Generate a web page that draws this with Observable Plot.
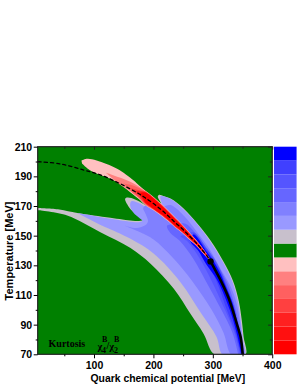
<!DOCTYPE html>
<html><head><meta charset="utf-8">
<script src="https://cdn.jsdelivr.net/npm/d3@7"></script>
<script src="https://cdn.jsdelivr.net/npm/@observablehq/plot@0.6"></script>
<style>html,body{margin:0;padding:0;background:#fff}svg{display:block}</style>
</head><body><div id="c"></div>
<script>
const bandGrey=[[5,169],[40.7,168],[70.9,165.6],[126.7,162.4],[164.2,160.4],[175,160.3],[183,161],[177,163.3],[169,165.3],[161,168],[155,171.5],[151.5,175],[154.3,176],[162,175.7],[177,173],[194,168.8],[212,166],[212,172],[206.5,176.5],[208.3,177.8],[217,177],[228,175.4],[250,168.7],[273,158.6],[295.3,147.1],[317,133],[333,120],[343,106],[348,93],[351,82],[354,70],[302.5,70],[283.8,84],[261.5,97.6],[233.5,114.5],[194.3,131.4],[160.6,142],[109.9,152.7],[54,164],[5,167.5]];
const band90=[[70.9,165.6],[127,161.7],[165,159.6],[176,159.6],[180.5,160.4],[174,162.8],[166,165.6],[160,170.5],[162,173.5],[177,171.8],[194,167.5],[213,165],[213,172],[211,176.8],[228,175],[250,168],[273,158],[295,146.3],[316,132.5],[332,119.3],[342,105],[346.5,92],[350,80],[353,70],[316,70],[305.5,82],[280,97.6],[244.7,119],[199.9,138.1],[160.6,148.2],[110,157.5]];
const band80=[[151,157],[170,155.5],[186,157.5],[190,160],[186,165],[182,169],[194,172],[214,170],[228,171],[250,164],[272.8,152.7],[295,140.4],[312,128],[328,117],[339,105],[345,92],[348.5,80],[351.5,70],[330.5,70],[317,85],[297.6,100],[264,120],[233,135],[198.8,148],[169,154]];
const band66=[[342,70],[332,85],[314,100],[287,120],[266,135],[243,147],[228,152],[222,157],[235,158],[253,158.3],[272.8,150.5],[295,138],[309,129],[325,117],[338,100],[345,85],[350,70]];
const band55=[[345,70],[335.5,85],[320,100],[297,120],[277,135],[255,147],[245,150],[255,151],[267,152.7],[289.6,141.5],[303.7,133.6],[315,124.6],[322,117],[336,100],[343,85],[349,70]];
const band40=[[346.5,70],[337,85],[323,100],[305,120],[285,135],[265,146],[258,147.5],[265,150],[267,152],[289.6,140.5],[302,133],[313.5,124.6],[321,117],[335,102],[343,86],[350,70]];
const band00=[[347.5,70],[339,85],[328,100],[307,120],[288,131],[275,140],[262,146],[262,148],[267,151.2],[289.6,139.2],[301,132.8],[312,124.6],[320,117],[333,104],[342,88],[351,70]];
const redPink=[[78,201],[88,202.2],[103.6,201],[138,195.4],[166,187.5],[174.6,184.3],[185.8,180.6],[199.9,176.3],[213.9,171.3],[225.1,166.9],[236.3,162.4],[247.6,157.9],[258.8,153],[270,148],[281.2,142.4],[290.8,136.8],[294,134.5],[290.8,135],[281.2,139.2],[270,144],[258.8,148],[247.6,152.1],[236.3,155.6],[225.1,159.7],[213.9,163.3],[199.9,167.3],[185.8,170.8],[174.6,175],[160.6,179.5],[132.7,187.5],[93,194.3],[79,199]];
const red80=[[118.5,193],[146,189],[166,185.5],[185.8,180.3],[199.9,176],[213.9,171],[225.1,166.6],[236.3,162.1],[247.6,157.6],[258.8,152.7],[270,147.7],[281.2,142.2],[290.8,136.6],[293,134.7],[290.8,135.2],[281.2,139.4],[270,144.3],[258.8,148.3],[247.6,152.4],[236.3,155.9],[225.1,160],[213.9,163.6],[199.9,167.6],[185.8,171.1],[174.6,175.5],[160.6,180.2],[140,185.5]];
const red60=[[149,185.5],[166,184],[185.8,180.1],[199.9,175.8],[213.9,170.8],[225.1,166.4],[236.3,161.9],[247.6,157.4],[258.8,152.5],[270,147.5],[281.2,142],[290.8,136.4],[292.5,134.8],[290.8,135.3],[281.2,139.6],[270,144.5],[258.8,148.5],[247.6,152.6],[236.3,156.1],[225.1,160.2],[213.9,163.8],[199.9,167.8],[185.8,171.4],[174.6,176],[165,179]];
const red40=[[160,182.5],[170,181.5],[185.8,179.9],[199.9,175.6],[213.9,170.6],[225.1,166.2],[236.3,161.7],[247.6,157.2],[258.8,152.3],[270,147.3],[281.2,141.8],[290.8,136.3],[292,135],[290.8,135.5],[281.2,139.8],[270,144.7],[258.8,148.7],[247.6,152.8],[236.3,156.3],[225.1,160.4],[213.9,164],[199.9,168],[185.8,171.8],[174.6,176.5]];
const red20=[[169,180.5],[185.8,179.7],[199.9,175.4],[213.9,170.4],[225.1,166],[236.3,161.5],[247.6,157],[258.8,152.1],[270,147.1],[281.2,141.6],[290.8,136.2],[291.5,135.2],[290.8,135.6],[281.2,140],[270,144.9],[258.8,148.9],[247.6,153],[236.3,156.5],[225.1,160.6],[213.9,164.2],[199.9,168.2],[185.8,172.2],[178,176.5]];
const red00=[[176,178.8],[185.8,179.5],[199.9,175.2],[213.9,170.2],[225.1,165.8],[236.3,161.3],[247.6,156.8],[258.8,151.9],[270,146.9],[281.2,141.4],[290.6,136],[291,135.4],[290.6,135.8],[281.2,140.2],[270,145.1],[258.8,149.1],[247.6,153.2],[236.3,156.7],[225.1,160.8],[213.9,164.4],[199.9,168.4],[185.8,172.6]];
const crossover=[[5,200.2],[42,198.8],[81,194.7],[109.9,191.3],[145,185],[174.6,178.6],[185.8,175.7],[199.9,171.8],[213.9,167.3],[225.1,163.3],[236.3,159],[247.6,155],[258.8,150.5],[270,146],[281.2,140.8],[290.8,135.9],[294,133.8]];
const firstOrder=[[295.3,133],[303.5,127],[312,120.5],[326,108],[334.5,97.6],[341,89],[346,82],[349.6,70]];
const criticalPoint=[[295.3,133]];
const legendColors=["#ff0000","#ff1010","#ff2020","#ff4040","#ff6060","#ff8080","#ffc0c0","#008000","#c8c0cc","#9999ff","#8080ff","#6666ff","#5555ff","#4040ff","#0000ff"];
const xMajor=[100,200,300,400], xMinor=[50,150,250,350];
const yMajor=[70,90,110,130,150,170,190,210], yMinor=[80,100,120,140,160,180,200];
const annotations=[{t:"Kurtosis",x:22.6,y:77.6,s:10},{t:"χ",x:105,y:75.6,s:10.5},{t:"B",x:112.6,y:80.3,s:8},{t:"4",x:112.6,y:73.2,s:8},{t:"/",x:120,y:76,s:10},{t:"χ",x:125,y:75.6,s:10.5},{t:"B",x:132.8,y:80.3,s:8},{t:"2",x:132.8,y:73.2,s:8}];
const sans="'Liberation Sans',Arial,sans-serif";
const poly=(pts,fill)=>Plot.line(pts,{x:d=>d[0],y:d=>d[1],fill,stroke:"none",curve:"catmull-rom",clip:"frame"});
const dy=140/15;
const legend=legendColors.map((c,i)=>({c,y1:70+i*dy,y2:70+(i+1)*dy}));
const chart=Plot.plot({
 width:298,height:385,marginTop:146.7,marginBottom:30.7,marginLeft:37.7,marginRight:1,
 x:{domain:[5.2,441.7]},y:{domain:[70,210]},
 style:{background:"#fff",fontFamily:sans},
 marks:[
  Plot.rect([0],{x1:()=>5.2,x2:()=>400,y1:()=>70,y2:()=>210,fill:"#008000"}),
  poly(bandGrey,"#c8c0cc"),poly(band90,"#9999ff"),poly(band80,"#8080ff"),poly(band66,"#6666ff"),poly(band55,"#5555ff"),poly(band40,"#4040ff"),poly(band00,"#0000ff"),
  poly(redPink,"#ffc0c0"),poly(red80,"#ff8080"),poly(red60,"#ff6060"),poly(red40,"#ff4040"),poly(red20,"#ff2020"),poly(red00,"#ff0000"),
  Plot.line(crossover,{x:d=>d[0],y:d=>d[1],stroke:"#000",strokeWidth:1.3,strokeDasharray:"3.2,3",curve:"catmull-rom"}),
  Plot.line(firstOrder,{x:d=>d[0],y:d=>d[1],stroke:"#000",strokeWidth:2.6,curve:"catmull-rom",clip:"frame"}),
  Plot.dot(criticalPoint,{x:d=>d[0],y:d=>d[1],r:3.2,fill:"#000"}),
  Plot.rect(legend,{x1:()=>403,x2:()=>441,y1:"y1",y2:"y2",fill:"c"}),
  Plot.rect([0],{x1:()=>5.2,x2:()=>400,y1:()=>70,y2:()=>210,fill:"none",stroke:"#222",strokeWidth:1.2}),
  Plot.ruleX(xMajor,{y1:()=>208,y2:()=>210,stroke:"#222"}),
  Plot.ruleX(xMinor,{y1:()=>208.6,y2:()=>210,stroke:"#222"}),
  Plot.ruleY(yMajor,{x1:()=>393,x2:()=>400,stroke:"#222"}),
  Plot.ruleY(yMinor,{x1:()=>396,x2:()=>400,stroke:"#222"}),
  Plot.axisX({anchor:"bottom",ticks:xMajor,tickSize:4,tickPadding:3,fontSize:10.5,fontWeight:"bold",fill:"#000",label:"Quark chemical potential [MeV]",labelAnchor:"center",labelArrow:"none",labelOffset:27,tickFormat:d=>d}),
  Plot.axisX({anchor:"bottom",ticks:xMinor,tickSize:2,tickFormat:()=>"",label:null}),
  Plot.axisY({anchor:"left",ticks:yMajor,tickSize:4,tickPadding:2,fontSize:10.5,fontWeight:"bold",fill:"#000",label:"Temperature [MeV]",labelAnchor:"center",labelArrow:"none",labelOffset:33,tickFormat:d=>d}),
  Plot.axisY({anchor:"left",ticks:yMinor,tickSize:2,tickFormat:()=>"",label:null}),
  Plot.text(annotations,{x:"x",y:"y",text:"t",fontSize:"s",textAnchor:"start",fontWeight:"bold",fontFamily:"'Liberation Serif',serif",fill:"#000"})
 ]
});
d3.select(chart).selectAll("[aria-label='x-axis label'] text").style("font-size","10.4px").style("font-weight","bold");
d3.select(chart).selectAll("[aria-label='y-axis label'] text").style("font-size","11px").style("font-weight","bold");
document.getElementById("c").appendChild(chart);
</script></body></html>
